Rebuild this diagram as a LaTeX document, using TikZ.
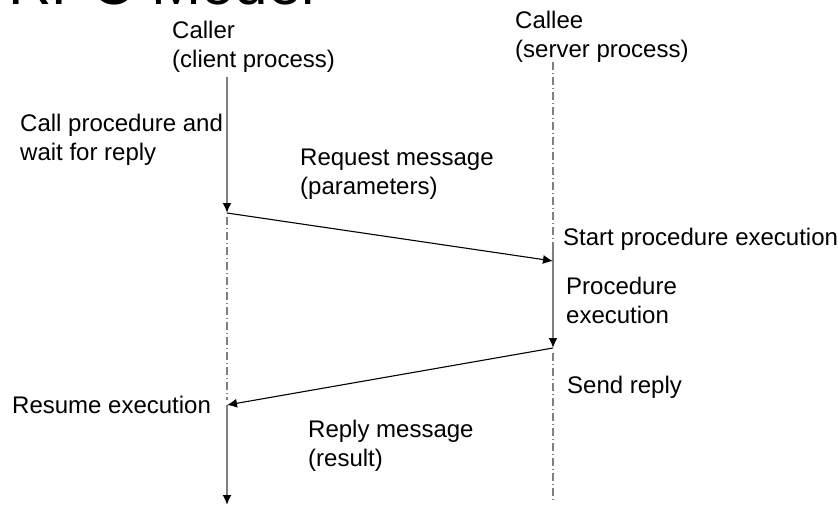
\documentclass[tikz,border=0pt]{standalone}
\usepackage{fontspec}
\setmainfont{Liberation Sans}
\usetikzlibrary{arrows.meta}

% multi-line labels are placed by the baseline of their last line
\tikzset{
  lbl/.style={font=\fontsize{24}{29}\selectfont, inner sep=0pt, anchor=base west, align=left},
  tip/.style={-{Latex[length=10pt,width=9pt,black]}},
  life/.style={draw=gray, line width=1.8pt},
  idle/.style={draw=gray, line width=1.8pt, dash pattern=on 8pt off 3pt on 1pt off 3pt},
  lifearrow/.style={life, tip},
  msg/.style={draw=black, line width=1.1pt, tip},
}

\begin{document}
\begin{tikzpicture}[x=1pt, y=-1pt]
  \useasboundingbox (0,0) rectangle (838,506);

  % title (runs off the top edge)
  \node[font=\fontsize{60}{72}\selectfont, inner sep=0pt, anchor=base west] (title) at (8,5) {RPC Model};

  % process headers
  \node[lbl] (caller) at (172,67) {Caller\\(client process)};
  \node[lbl] (callee) at (515,57) {Callee\\(server process)};

  % caller lifeline points
  \coordinate (cTop)  at (227,77);
  \coordinate (cSend) at (227,213);
  \coordinate (cWait) at (227,217);
  \coordinate (cIdle) at (227,400);
  \coordinate (cBack) at (227,405);
  \coordinate (cEnd)  at (227,505);

  % callee lifeline points
  \coordinate (sTop)   at (553,62);
  \coordinate (sStart) at (553,246);
  \coordinate (sRecv)  at (553,261);
  \coordinate (sDone)  at (553,348);
  \coordinate (sWait)  at (553,353);
  \coordinate (sEnd)   at (553,500);

  % lifelines
  \draw[lifearrow] (cTop) -- (cSend);
  \draw[idle] (cWait) -- (cIdle);
  \draw[lifearrow] (cBack) -- (cEnd);
  \draw[idle] (sTop) -- (sStart);
  \draw[lifearrow] (sStart) -- (sDone);
  \draw[idle] (sWait) -- (sEnd);

  % messages
  \draw[msg] (cSend) -- (sRecv);
  \draw[msg] (sDone) -- (cBack);

  % annotations
  \node[lbl] (callproc) at (20,160) {Call procedure and\\wait for reply};
  \node[lbl] (reqmsg)   at (300,194) {Request message\\(parameters)};
  \node[lbl] (startexe) at (563,245) {Start procedure execution};
  \node[lbl] (procexe)  at (566,323) {Procedure\\execution};
  \node[lbl] (sendrep)  at (567,393) {Send reply};
  \node[lbl] (resume)   at (12,413) {Resume execution};
  \node[lbl] (repmsg)   at (308,466) {Reply message\\(result)};
\end{tikzpicture}
\end{document}
